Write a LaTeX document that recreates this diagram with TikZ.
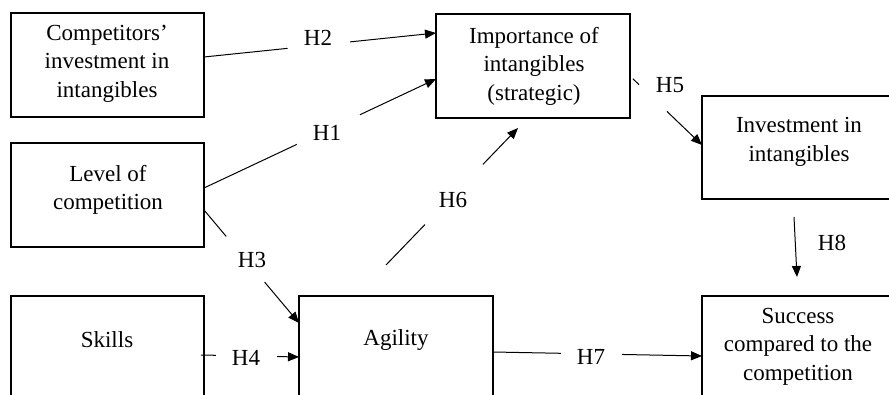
\documentclass[tikz,border=0pt]{standalone}
\usepackage{fontspec}
\setmainfont{Liberation Serif}
\usetikzlibrary{arrows.meta,calc}
\begin{document}
\begin{tikzpicture}[x=1pt,y=-1pt,
 box/.style={draw, line width=1.5pt, minimum width=194pt, minimum height=104pt, inner sep=0pt, outer sep=0pt},
 txt/.style={align=center, inner sep=0pt, font=\fontsize{23}{28.5}\selectfont},
 lab/.style={inner sep=0pt, font=\fontsize{23}{28.5}\selectfont},
 con/.style={line width=1pt},
 arr/.style={line width=1pt, -{Triangle[length=11pt,width=9pt]}}]
\useasboundingbox (0,0) rectangle (889,395);
\fill[white] (0,0) rectangle (889,395);
\clip (0,0) rectangle (889,395);

% boxes
\node[box, minimum width=193pt] (comp) at (107.5,65) {};
\node[box] (imp) at (533,66) {};
\node[box, minimum height=103pt] (inv) at (799,147.5) {};
\node[box, minimum width=193pt] (lev) at (107.5,195) {};
\node[box, minimum width=193pt] (skills) at (107.5,348) {};
\node[box] (agil) at (396,348) {};
\node[box] (succ) at (799,348) {};

% texts
\node[txt] (compT) at (107,63.5) {Competitors’\\investment in\\intangibles};
\node[txt] (impT) at (534,66) {Importance of\\intangibles\\(strategic)};
\node[txt] (invT) at (799,142) {Investment in\\intangibles};
\node[txt] (levT) at (108,190) {Level of\\competition};
\node[txt] (skillsT) at (107,340) {Skills};
\node[txt] (agilT) at (396,340) {Agility};
\node[txt] (succT) at (798,346.5) {Success\\compared to the\\competition};

% H2
\coordinate (h2s) at ([yshift=8pt]comp.east);
\coordinate (h2e) at ([yshift=33pt]imp.west);
\path (h2s) -- (h2e) coordinate[pos=0.36] (h2a) coordinate[pos=0.63] (h2b);
\draw[con] (h2s) -- (h2a);
\draw[arr] (h2b) -- (h2e);
\node[lab] (h2) at (318,38) {H2};

% H1
\coordinate (h1s) at ([yshift=7pt]lev.east);
\coordinate (h1e) at ([yshift=-13pt]imp.west);
\path (h1s) -- (h1e) coordinate[pos=0.40] (h1a) coordinate[pos=0.672] (h1b);
\draw[con] (h1s) -- (h1a);
\draw[arr] (h1b) -- (h1e);
\node[lab] (h1) at (327,133) {H1};

% H3
\coordinate (h3s) at ([yshift=-15pt]lev.east);
\coordinate (h3e) at ([yshift=25pt]agil.west);
\path (h3s) -- (h3e) coordinate[pos=0.234] (h3a) coordinate[pos=0.638] (h3b);
\draw[con] (h3s) -- (h3a);
\draw[arr] (h3b) -- (h3e);
\node[lab] (h3) at (252,260) {H3};

% H4
\coordinate (h4s) at ([yshift=-7pt,xshift=-3pt]skills.east);
\coordinate (h4e) at ([yshift=-9pt]agil.west);
\path (h4s) -- (h4e) coordinate[pos=0.153] (h4a) coordinate[pos=0.776] (h4b);
\draw[con] (h4s) -- (h4a);
\draw[arr] (h4b) -- (h4e);
\node[lab] (h4) at (246,358) {H4};

% H5
\coordinate (h5s) at ([yshift=-10pt]imp.east);
\coordinate (h5e) at ([yshift=2.5pt]inv.west);
\path (h5s) -- (h5e) coordinate[pos=0.04] (h5a0) coordinate[pos=0.125] (h5a) coordinate[pos=0.514] (h5b);
\draw[con] (h5a0) -- (h5a);
\draw[arr] (h5b) -- (h5e);
\node[lab] (h5) at (670,85) {H5};

% H6
\coordinate (h6s) at ([xshift=-10pt,yshift=31pt]agil.north);
\coordinate (h6e) at ([xshift=-15pt,yshift=-10pt]imp.south);
\path (h6s) -- (h6e) coordinate[pos=0.295] (h6a) coordinate[pos=0.735] (h6b);
\draw[con] (h6s) -- (h6a);
\draw[arr] (h6b) -- (h6e);
\node[lab] (h6) at (453,200) {H6};

% H7
\coordinate (h7s) at ([yshift=-4pt]agil.east);
\coordinate (h7e) at ([yshift=-8pt]succ.west);
\path (h7s) -- (h7e) coordinate[pos=0.325] (h7a) coordinate[pos=0.617] (h7b);
\draw[con] (h7s) -- (h7a);
\draw[arr] (h7b) -- (h7e);
\node[lab] (h7) at (591,357) {H7};

% H8
\coordinate (h8s) at ([xshift=-5pt,yshift=-18pt]inv.south);
\coordinate (h8e) at ([xshift=-2pt,yshift=19pt]succ.north);
\draw[arr] (h8s) -- (h8e);
\node[lab] (h8) at (832,243) {H8};
\end{tikzpicture}
\end{document}
